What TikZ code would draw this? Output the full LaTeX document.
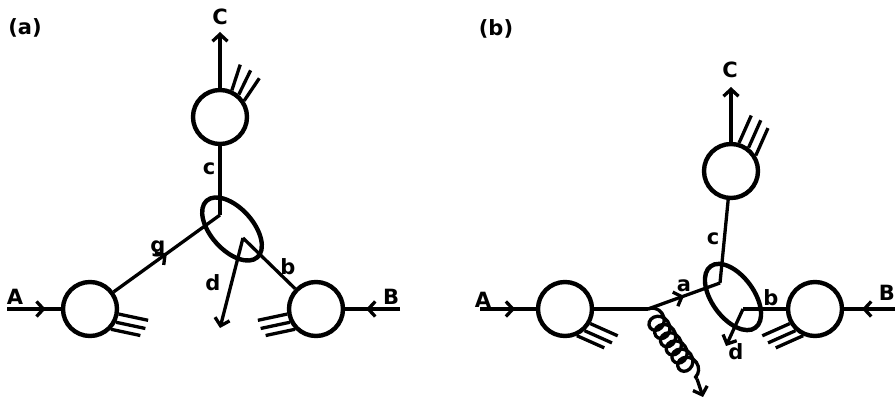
\documentclass[tikz,border=0pt]{standalone}
\usepackage{fontspec}
\setmainfont{DejaVu Sans}
\usepackage{tikz}
\usetikzlibrary{arrows.meta,positioning,calc,shapes.geometric,decorations.markings,decorations.pathmorphing}
\tikzset{every node/.append style={align=center}}

\begin{document}
\begin{tikzpicture}[x=1pt,y=1pt,
  every node/.style={font=\fontsize{21}{21}\selectfont\bfseries,inner sep=0pt},
  blob/.style={circle,draw,line width=4.4pt,minimum size=54pt},
  hardblob/.style={ellipse,draw,line width=4.4pt,minimum width=76pt,minimum height=42pt},
  pline/.style={line width=3.3pt},
  tip/.style={-{Straight Barb[length=7pt,width=15pt]}},
  midarrow/.style={postaction={decorate},decoration={markings,
    mark=at position #1 with {\arrow{Straight Barb[length=7pt,width=15pt]}}}},
  gluon/.style={decorate,decoration={coil,amplitude=9pt,segment length=10pt,aspect=1}}]
  \useasboundingbox (0,0) rectangle (896,406);

  % (a)
  \node at (25,378) {(a)};
  \node[blob] (ha) at (90,97) {};
  \node[blob] (hb) at (316,97) {};
  \node[blob] (hc) at (220,289) {};
  \node[hardblob,rotate=-48] (hard) at (232,177) {};
  \coordinate (va) at (220,191);
  \coordinate (vd) at (243,168);
  \coordinate (ina) at (7,97);
  \coordinate (inb) at (400,97);
  \coordinate (outc) at (220,374);
  \coordinate (outd) at (220,78);
  \draw[pline,midarrow=0.72] (ina) -- (ha);
  \draw[pline,midarrow=0.62] (inb) -- (hb);
  \draw[pline,tip] (hc) -- (outc);
  \draw[pline] (hc) -- (va);
  \draw[pline,midarrow=0.5] (ha) -- (va);
  \draw[pline] (vd) -- (hb);
  \draw[pline,tip] (vd) -- (outd);
  \foreach \p/\d in {-10/-12,-27/-12,-44/-12}
    \draw[pline] (ha.\p) -- ++(\d:30);
  \foreach \p/\d in {190/192,207/192,224/192}
    \draw[pline] (hb.\p) -- ++(\d:30);
  \foreach \p/\d in {66/72,50/64,34/56}
    \draw[pline] (hc.\p) -- ++(\d:27);
  \node at (15,109) {A};
  \node at (391,109) {B};
  \node at (220,389) {C};
  \node at (209,237) {c};
  \node at (158,157) {g};
  \node at (288,139) {b};
  \node at (213,123) {d};

  % (b)
  \node at (496,377) {(b)};
  \node[blob] (ha2) at (565,97) {};
  \node[blob] (hb2) at (815,97) {};
  \node[blob] (hc2) at (731,235) {};
  \node[hardblob,rotate=-54] (hard2) at (733,109) {};
  \coordinate (s2) at (648,97);
  \coordinate (va2) at (720,123);
  \coordinate (vd2) at (743,97);
  \coordinate (ina2) at (480,97);
  \coordinate (inb2) at (895,97);
  \coordinate (outc2) at (731,319);
  \coordinate (outd2) at (726,60);
  \coordinate (g1) at (697,27);
  \coordinate (g2) at (703,9);
  \draw[pline,midarrow=0.63] (ina2) -- (ha2);
  \draw[pline,midarrow=0.65] (inb2) -- (hb2);
  \draw[pline,tip] (hc2) -- (outc2);
  \draw[pline] (hc2) -- (va2);
  \draw[pline] (ha2) -- (s2);
  \draw[pline,midarrow=0.5] (s2) -- (va2);
  \draw[pline,gluon] (s2) -- (g1);
  \draw[pline,tip] (g1) -- (g2);
  \draw[pline] (vd2) -- (hb2);
  \draw[pline,tip] (vd2) -- (outd2);
  \foreach \p/\d in {-30/-24,-48/-24,-66/-24}
    \draw[pline] (ha2.\p) -- ++(\d:30);
  \foreach \p/\d in {210/204,228/204,246/204}
    \draw[pline] (hb2.\p) -- ++(\d:30);
  \foreach \p/\d in {74/66,53/66,32/66}
    \draw[pline] (hc2.\p) -- ++(\d:30);
  \node at (483,106) {A};
  \node[anchor=east] at (895,113) {B};
  \node at (730,336) {C};
  \node at (713,167) {c};
  \node at (684,120) {a};
  \node at (771,108) {b};
  \node at (736,54) {d};
\end{tikzpicture}
\end{document}
